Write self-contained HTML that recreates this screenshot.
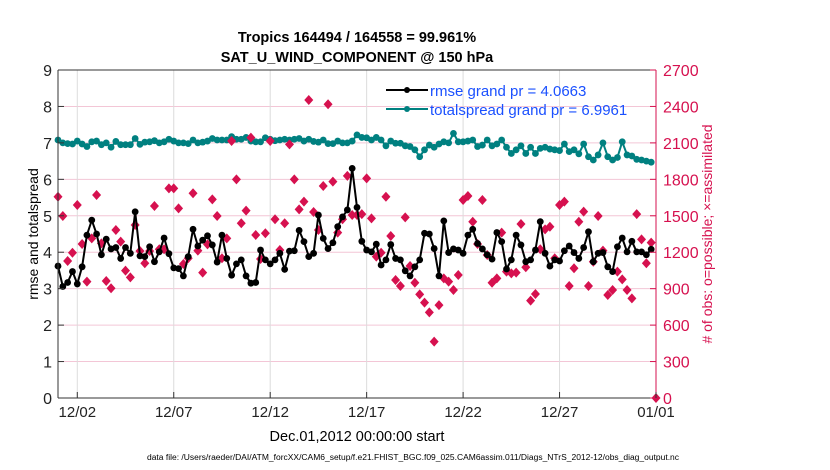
<!DOCTYPE html>
<html><head><meta charset="utf-8"><style>
html,body{margin:0;padding:0;background:#fff;width:830px;height:470px;overflow:hidden}
svg{display:block;font-family:"Liberation Sans",sans-serif}
</style></head><body>
<svg id="chart" width="830" height="470" viewBox="0 0 830 470">
<rect x="0" y="0" width="830" height="470" fill="#fff"/>
<g id="grid"></g>
<g id="marks"></g>
<g id="axes"></g>
<text x="357" y="42" text-anchor="middle" font-size="14.5" font-weight="bold">Tropics 164494 / 164558 = 99.961%</text>
<text x="357" y="62" text-anchor="middle" font-size="14.5" font-weight="bold">SAT_U_WIND_COMPONENT @ 150 hPa</text>
<text transform="translate(38,234) rotate(-90)" text-anchor="middle" font-size="14">rmse and totalspread</text>
<text transform="translate(712,234) rotate(-90)" text-anchor="middle" font-size="14" fill="#d6114f"># of obs: o=possible; ×=assimilated</text>
<text x="357" y="441" text-anchor="middle" font-size="14.5">Dec.01,2012 00:00:00 start</text>
<text x="413" y="460" text-anchor="middle" font-size="8" textLength="532" lengthAdjust="spacingAndGlyphs">data file: /Users/raeder/DAI/ATM_forcXX/CAM6_setup/f.e21.FHIST_BGC.f09_025.CAM6assim.011/Diags_NTrS_2012-12/obs_diag_output.nc</text>
<g>
<line x1="386" y1="90" x2="428" y2="90" stroke="#000" stroke-width="2"/>
<circle cx="407" cy="90" r="3" fill="#000"/>
<text x="430" y="96" font-size="15" fill="#1a50ff">rmse grand pr = 4.0663</text>
<line x1="386" y1="109" x2="428" y2="109" stroke="#008080" stroke-width="2"/>
<circle cx="407" cy="109" r="3" fill="#008080"/>
<text x="430" y="115" font-size="15" fill="#1a50ff">totalspread grand pr = 6.9961</text>
</g>
</svg>
<script>
const rmse=[3.62,3.06,3.17,3.47,3.13,3.6,4.47,4.88,4.5,3.93,4.36,4.09,4.13,3.83,4.13,3.97,5.11,3.9,3.88,4.15,3.74,4.01,4.39,3.96,3.57,3.55,3.35,3.88,4.63,4.17,4.33,4.45,4.2,3.73,4.47,3.83,3.37,3.68,3.79,3.35,3.15,3.17,4.06,3.79,3.68,3.79,3.97,3.53,4.03,4.04,4.6,4.29,3.88,3.97,5.02,4.38,4.1,4.26,4.7,4.97,5.16,6.3,
5.23,4.3,4.06,4.01,4.22,3.65,3.79,4.21,3.83,3.79,3.49,3.35,3.6,3.79,4.52,4.5,4.1,3.35,4.86,3.99,4.09,4.06,3.97,4.47,4.63,4.24,4.09,3.93,3.81,4.54,4.29,3.54,3.79,4.47,4.2,3.74,3.79,4.06,4.84,3.97,3.62,3.79,3.76,4.04,4.17,3.99,3.83,4.13,4.56,3.74,3.97,3.99,3.6,3.47,4.15,4.39,4.01,4.3,4.01,4.01,3.93,4.08];
const spread=[7.08,7.0,6.98,6.97,7.05,6.97,6.9,7.03,7.05,6.95,7.0,6.88,7.04,6.95,6.95,6.95,7.12,6.96,7.02,7.03,7.06,
7.0,7.03,7.1,7.05,7.0,7.0,6.98,7.08,7.0,7.02,7.05,7.12,7.08,7.08,7.08,7.17,7.1,7.1,7.15,7.05,
7.03,7.03,7.14,7.1,7.06,7.08,7.1,7.08,7.1,7.12,7.05,7.1,7.04,7.02,7.08,6.98,6.98,7.05,7.0,7.0,7.05,
7.22,7.15,7.14,7.08,7.15,7.08,6.92,7.05,6.99,6.99,6.92,6.9,6.81,6.62,6.81,6.94,6.88,6.97,7.03,7.0,7.26,7.03,7.03,7.05,7.08,6.9,6.94,7.08,6.92,6.97,7.08,6.88,6.71,6.81,6.92,6.71,6.88,6.71,6.85,6.88,6.83,6.81,6.79,6.97,6.76,6.81,6.7,6.97,6.62,6.53,6.67,7.0,6.62,6.53,6.6,7.03,6.67,6.64,6.55,6.53,6.5,6.47];
const obs=[1657,1498,1128,1196,1589,1268,958,1314,1671,1273,963,903,1383,1287,1048,993,1424,1210,1109,1210,1581,1224,1224,1726,1726,1561,1103,1150,1685,1213,1032,1265,1635,1498,1150,1314,2116,1800,1438,1542,2143,1342,1144,1356,2116,1471,1218,1438,2088,1800,1553,1616,2453,1531,1383,1745,2418,1781,1361,1471,1828,1506,
1506,1514,1808,1479,1164,1196,1657,1334,971,922,1487,1087,949,853,785,705,464,765,985,958,889,1013,1630,1663,1451,1268,1630,1177,949,985,1361,1040,1026,1032,1432,1076,802,856,1224,1388,1410,1150,1589,1616,922,1068,1451,1534,922,1122,1498,1213,848,889,1040,976,889,820,1514,1306,1109,1279,0];
const xTickDays=[1,6,11,16,21,26,31];
const xTickLabels=["12/02","12/07","12/12","12/17","12/22","12/27","01/01"];
const yTicks=[0,1,2,3,4,5,6,7,8,9];
const y2Ticks=[0,300,600,900,1200,1500,1800,2100,2400,2700];

const L=58,R=656,T=70,B=398;
const xs=d=>L+(R-L)*d/31;
const ys=v=>B-(B-T)*v/9;
const y2s=v=>B-(B-T)*v/2700;
const NS="http://www.w3.org/2000/svg";
function mk(tag,attrs,parent){const e=document.createElementNS(NS,tag);for(const k in attrs)e.setAttribute(k,attrs[k]);parent.appendChild(e);return e;}
const grid=document.getElementById('grid'),marks=document.getElementById('marks'),axes=document.getElementById('axes');

yTicks.forEach((v,i)=>{if(v>0&&v<9){const g=mk('line',{x1:L,x2:R,y1:ys(v),y2:ys(v),stroke:'#f3c6d6','stroke-width':1},grid);

}});
xTickDays.forEach(d=>{if(d<31){const g=mk('line',{x1:xs(d),x2:xs(d),y1:T,y2:B,stroke:'#dcdcdc','stroke-width':1},grid);

}});

let p=spread.map((v,i)=>xs(i*0.25).toFixed(1)+','+ys(v).toFixed(1)).join(' ');
let pl=mk('polyline',{points:p,fill:'none',stroke:'#008080','stroke-width':2},marks);


spread.forEach((v,i)=>{const c=mk('circle',{cx:xs(i*0.25),cy:ys(v),r:3.4,fill:'#008080'},marks);

});
obs.forEach((v,i)=>{const x=xs(i*0.25),y=y2s(v);const d=mk('polygon',{points:`${x},${y-5} ${x+4.5},${y} ${x},${y+5} ${x-4.5},${y}`,fill:'#d6114f'},marks);

});
p=rmse.map((v,i)=>xs(i*0.25).toFixed(1)+','+ys(v).toFixed(1)).join(' ');
pl=mk('polyline',{points:p,fill:'none',stroke:'#000','stroke-width':2},marks);


rmse.forEach((v,i)=>{const c=mk('circle',{cx:xs(i*0.25),cy:ys(v),r:3.4,fill:'#000'},marks);

});

let a=mk('line',{x1:L,x2:L,y1:T,y2:B,stroke:'#333','stroke-width':1},axes);


a=mk('line',{x1:L,x2:R,y1:B,y2:B,stroke:'#333','stroke-width':1},axes);


a=mk('line',{x1:L,x2:R,y1:T,y2:T,stroke:'#333','stroke-width':1},axes);


a=mk('line',{x1:R,x2:R,y1:T,y2:B,stroke:'#d6114f','stroke-width':1},axes);


yTicks.forEach(v=>{const y=ys(v);mk('line',{x1:L,x2:L+6,y1:y,y2:y,stroke:'#333'},axes);
const t=mk('text',{x:L-6,y:y+6,'text-anchor':'end','font-size':16,fill:'#222'},axes);t.textContent=v;

});
y2Ticks.forEach(v=>{const y=y2s(v);mk('line',{x1:R-6,x2:R,y1:y,y2:y,stroke:'#d6114f'},axes);
const t=mk('text',{x:R+7,y:y+6,'font-size':16,fill:'#d6114f'},axes);t.textContent=v;

});
xTickDays.forEach((d,i)=>{const x=xs(d);mk('line',{x1:x,x2:x,y1:B,y2:B-6,stroke:'#333'},axes);
const t=mk('text',{x:x,y:B+19,'text-anchor':'middle','font-size':15,fill:'#222'},axes);t.textContent=xTickLabels[i];

});
</script>
</body></html>
